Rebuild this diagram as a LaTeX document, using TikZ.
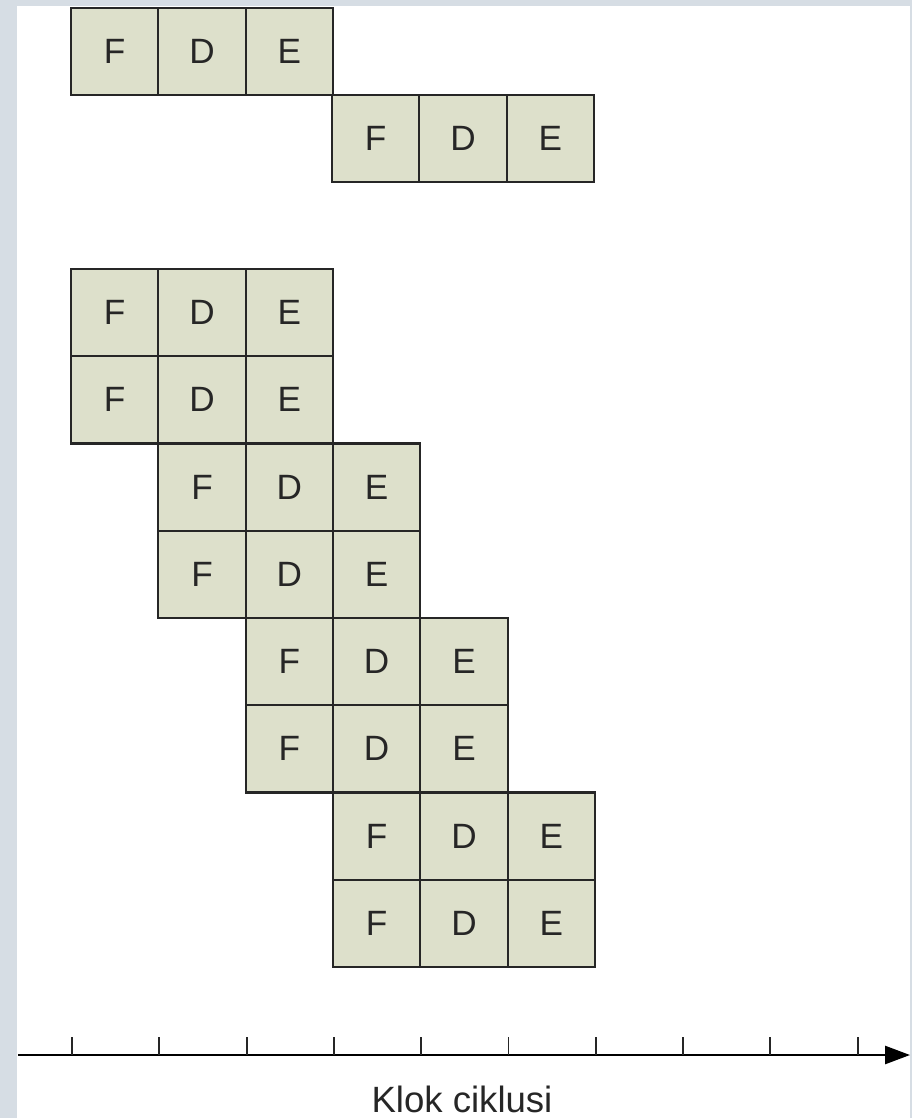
\documentclass[tikz,border=0pt]{standalone}
\usepackage{fontspec}
\setmainfont{Liberation Sans}
\usetikzlibrary{arrows.meta}
\definecolor{cellfill}{HTML}{DDE0CB}
\definecolor{framegrey}{HTML}{D6DDE4}
\definecolor{inkgrey}{HTML}{262626}
\tikzset{
	cell/.style={draw=inkgrey, fill=cellfill, line width=1.6pt, minimum size=2.183cm, inner sep=0pt, outer sep=0pt, text=inkgrey},
	axis/.style={draw=black, line width=1.5pt, -{Triangle[length=0.62cm, width=0.45cm]}},
	tick/.style={draw=inkgrey, line width=1.4pt}
}
\begin{document}
\begin{tikzpicture}[x=0.025cm, y=-0.025cm, every node/.style={font=\fontsize{25}{30}\selectfont}]
	\fill[framegrey] (0,0) rectangle (912,1118);
	\fill[white] (17,6) rectangle (910,1118);
	% sequential: one instruction after the other
	\foreach \l [count=\i] in {F,D,E} {
		\node[cell] (a\l) at ({71+87.33*(\i-0.5)}, 51.5) {\l};
		\node[cell] (b\l) at ({332+87.33*(\i-0.5)}, 138.5) {\l};
	}
	% two instructions per cycle
	\foreach \r in {0,...,7} {
		\pgfmathtruncatemacro{\c}{floor(\r/2)}
		\foreach \l [count=\i] in {F,D,E}
			\node[cell] (r\r\l) at ({71+87.33*(\c+\i-0.5)}, {269+87.25*(\r+0.5)}) {\l};
	}
	% time axis
	\coordinate (tstart) at (18,1055);
	\coordinate (tend) at (910,1055);
	\draw[axis] (tstart) -- (tend);
	\foreach \k in {0,...,9}
		\draw[tick] ({72+87.3*\k},1037) -- ++(0,18);
	\node[anchor=base, text=inkgrey, font=\fontsize{26}{31}\selectfont] (klok) at (462,1112) {Klok ciklusi};
\end{tikzpicture}
\end{document}
